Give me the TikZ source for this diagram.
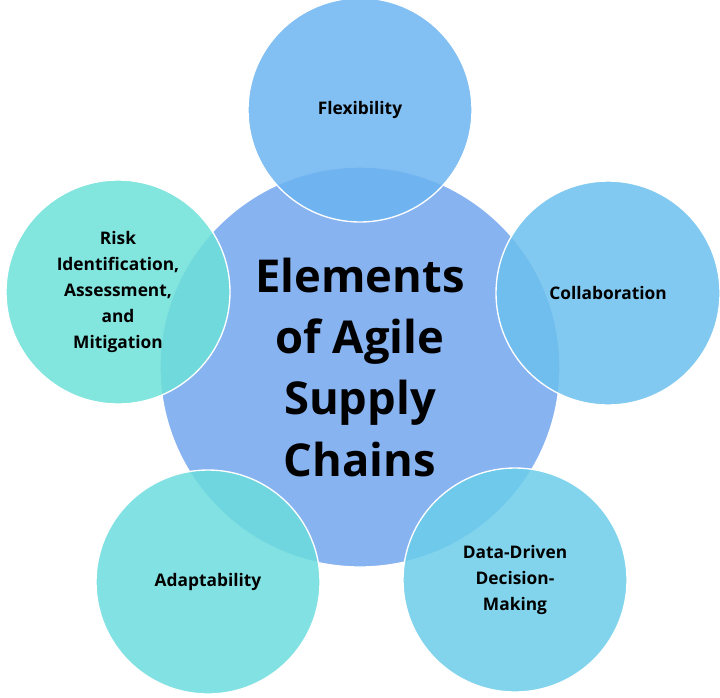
\documentclass[tikz,border=0pt]{standalone}
\usepackage{fontspec}
\setmainfont{Open Sans}
\definecolor{hub}{HTML}{7AABF0}
\definecolor{cflex}{HTML}{6CB4F0}
\definecolor{ccoll}{HTML}{6CC0EE}
\definecolor{cdata}{HTML}{6CCDEA}
\definecolor{cadapt}{HTML}{6CDCDE}
\definecolor{crisk}{HTML}{6CE0D8}
\begin{document}
\begin{tikzpicture}[
      x=0.75pt, y=-0.75pt,
      hubnode/.style={circle, draw=white, line width=1pt, fill=hub, fill opacity=0.9, text opacity=1, minimum size=300pt, align=center, font=\fontsize{34}{46}\selectfont\bfseries},
      petal/.style={circle, draw=white, line width=1pt, fill opacity=0.85, text opacity=1, minimum size=168pt, align=center, font=\fontsize{13}{19.5}\selectfont\bfseries}
    ]
    \useasboundingbox (0,0) rectangle (720,697);

    % Centre circle
    \node[hubnode] (hub) at (360,367) {};

    % Outer circles
    \node[petal, fill=cflex] (flex) at (360,110) {Flexibility};
    \node[petal, fill=ccoll] (coll) at (608,293) {Collaboration};
    \node[petal, fill=cdata] (data) at (515,580) {Data-Driven\\Decision-\\Making};
    \node[petal, fill=cadapt] (adapt) at (208,582) {Adaptability};
    \node[petal, fill=crisk] (risk) at (118,292) {Risk\\Identification,\\Assessment,\\and\\Mitigation};

    % Centre label on top
    \node[align=center, font=\fontsize{34}{46}\selectfont\bfseries] (title) at (hub) {Elements\\of Agile\\Supply\\Chains};

  \end{tikzpicture}
\end{document}
